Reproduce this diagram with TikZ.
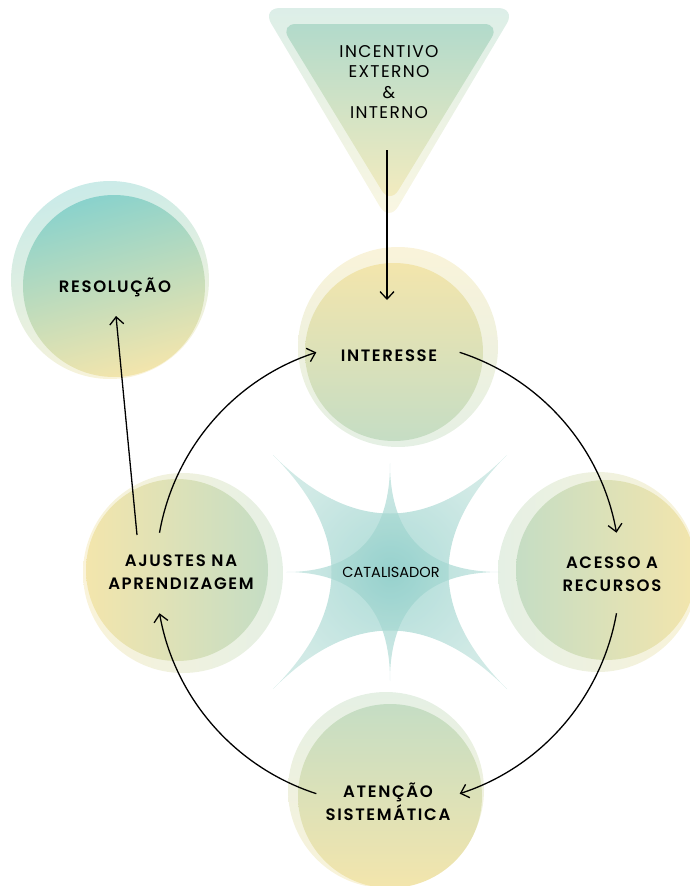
\documentclass[tikz,border=0pt]{standalone}
\usepackage{fontspec}
\usetikzlibrary{arrows.meta,calc}
\newfontfamily\lblfont{Poppins SemiBold}[LetterSpace=10]
\newfontfamily\trifont{Poppins}[LetterSpace=8]
\newfontfamily\catfont{Poppins}
\definecolor{cY}{RGB}{243,229,172}
\definecolor{cG}{RGB}{197,221,196}
\definecolor{cT}{RGB}{138,210,204}
\definecolor{cTG}{RGB}{178,218,203}
\definecolor{cTY}{RGB}{245,236,190}
\definecolor{starIn}{RGB}{140,205,200}
\definecolor{starOut}{RGB}{190,225,219}
\begin{document}
\begin{tikzpicture}[x=1pt,y=-1pt,
  arr/.style={draw=black,line width=1.3pt,-{Straight Barb[length=7.5pt,width=14pt,line width=1.3pt]}},
  lbl/.style={font=\lblfont\fontsize{16.5}{22.5}\selectfont,align=center,inner sep=0pt,text=black},
  tri/.style={font=\trifont\fontsize{17}{20.3}\selectfont,align=center,inner sep=0pt,text=black},
  cat/.style={font=\catfont\fontsize{14.5}{16}\selectfont,inner sep=0pt,text=black},
  halo/.style={fill opacity=0.45},
  starfill/.style={inner color=starIn,outer color=starOut,fill opacity=0.7},
]
\useasboundingbox (0,0) rectangle (689,886);

% ---- star (catalisador) ----
\begin{scope}[shift={(390,572)}]
\shade[starfill]
  (-117,-117) .. controls (-39,-39) and (39,-39) .. (117,-117)
  .. controls (39,-39) and (39,39) .. (117,117)
  .. controls (39,39) and (-39,39) .. (-117,117)
  .. controls (-39,39) and (-39,-39) .. cycle;
\shade[starfill]
  (0,-109) .. controls (0,-36.3) and (36.7,0) .. (110,0)
  .. controls (36.7,0) and (0,36.3) .. (0,109)
  .. controls (0,36.3) and (-34.7,0) .. (-104,0)
  .. controls (-34.7,0) and (0,-36.3) .. cycle;
\end{scope}

% ---- triangle ----
\shade[top color=cTG,bottom color=cTY,halo,rounded corners=18pt]
  (262,8) -- (516,8) -- (389,222) -- cycle;
\shade[top color=cTG,bottom color=cTY,rounded corners=16pt]
  (280,24) -- (500,24) -- (390,204) -- cycle;

% ---- circles ----
\shade[top color=cY,bottom color=cG,halo] (398,347) circle[radius=100];
\shade[top color=cY,bottom color=cG] (394,352) circle[radius=89];

\shade[left color=cG,right color=cY,halo] (598,572) circle[radius=100];
\shade[left color=cG,right color=cY] (606,570) circle[radius=90];

\shade[left color=cY,right color=cG,halo] (183,573) circle[radius=100];
\shade[left color=cY,right color=cG] (177,570) circle[radius=91];

\shade[top color=cG,bottom color=cY,halo] (386,790) circle[radius=98];
\shade[top color=cG,bottom color=cY] (390,796) circle[radius=92];

\shade[top color=cT,bottom color=cY,halo,shading angle=15] (110,280) circle[radius=99];
\shade[top color=cT,bottom color=cY,shading angle=15] (114,286) circle[radius=91];

% ---- texts ----
\node[tri] (incentivo) at (389,82) {INCENTIVO\\EXTERNO\\\&\\INTERNO};
\node[lbl,anchor=base] (interesse) at (389,361.5) {INTERESSE};
\node[lbl] (acesso) at (612,574) {ACESSO A\\RECURSOS};
\node[lbl] (ajustes) at (181,572) {AJUSTES NA\\APRENDIZAGEM};
\node[lbl] (atencao) at (388,802) {ATENÇÃO\\SISTEMÁTICA};
\node[lbl,anchor=base] (resolucao) at (115,292.5) {RESOLUÇÃO};
\node[cat,anchor=base] (catal) at (391,577) {CATALISADOR};

% ---- connectors ----
\coordinate (cyc) at (388,573);
\coordinate (a1s) at (387,150);
\coordinate (a1e) at (387,300);
\draw[arr] (a1s) -- (a1e);

\coordinate (a2s) at ($(cyc)+(-72:232)$);
\draw[arr] (a2s) arc[start angle=-72,end angle=-10,radius=232];
\coordinate (a3s) at ($(cyc)+(10:232)$);
\draw[arr] (a3s) arc[start angle=10,end angle=72,radius=232];
\coordinate (a4s) at ($(cyc)+(108:232)$);
\draw[arr] (a4s) arc[start angle=108,end angle=170,radius=232];
\coordinate (a5s) at ($(cyc)+(190:232)$);
\draw[arr] (a5s) arc[start angle=190,end angle=252,radius=232];

\coordinate (a6s) at (137,535);
\coordinate (a6e) at (116,316);
\draw[arr] (a6s) -- (a6e);
\end{tikzpicture}
\end{document}
